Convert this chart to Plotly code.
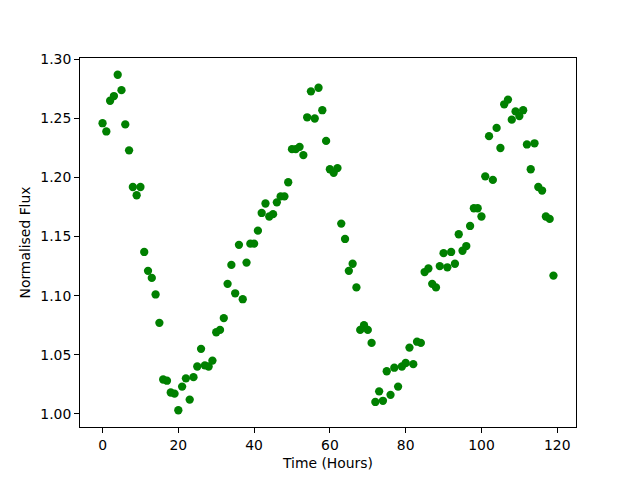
import plotly.graph_objects as go

hours = list(range(120))
flux = [
    1.246, 1.239, 1.265, 1.269, 1.287, 1.274, 1.245, 1.223, 1.192, 1.185,
    1.192, 1.137, 1.121, 1.115, 1.101, 1.077, 1.029, 1.028, 1.018, 1.017,
    1.003, 1.023, 1.030, 1.012, 1.031, 1.040, 1.055, 1.041, 1.040, 1.045,
    1.069, 1.071, 1.081, 1.110, 1.126, 1.102, 1.143, 1.097, 1.128, 1.144,
    1.144, 1.155, 1.170, 1.178, 1.167, 1.169, 1.179, 1.184, 1.184, 1.196,
    1.224, 1.224, 1.226, 1.219, 1.251, 1.273, 1.250, 1.276, 1.257, 1.231,
    1.207, 1.204, 1.208, 1.161, 1.148, 1.121, 1.127, 1.107, 1.071, 1.075,
    1.071, 1.060, 1.010, 1.019, 1.011, 1.036, 1.016, 1.039, 1.023, 1.040,
    1.043, 1.056, 1.042, 1.061, 1.060, 1.120, 1.123, 1.110, 1.107, 1.125,
    1.136, 1.124, 1.137, 1.127, 1.152, 1.138, 1.142, 1.159, 1.174, 1.174,
    1.167, 1.201, 1.235, 1.198, 1.242, 1.225, 1.262, 1.266, 1.249, 1.256,
    1.252, 1.257, 1.228, 1.207, 1.229, 1.192, 1.189, 1.167, 1.165, 1.117,
]

x_ticks = [0, 20, 40, 60, 80, 100, 120]
y_ticks = [1.00, 1.05, 1.10, 1.15, 1.20, 1.25, 1.30]

fig = go.Figure(go.Scatter(
    x=hours, y=flux, mode="markers",
    marker=dict(color="#008000", size=8.3, line=dict(width=0)),
))

font = dict(family="DejaVu Sans", size=13.9, color="black")
axis_common = dict(
    showgrid=False, zeroline=False, showline=True, mirror=True,
    linecolor="black", linewidth=1.1, ticks="outside", ticklen=4.9,
    tickwidth=1.1, tickcolor="black", tickfont=font, automargin=False,
)

fig.update_layout(
    width=640, height=480, autosize=False,
    margin=dict(l=80, r=64, t=57.6, b=52.8),
    paper_bgcolor="white", plot_bgcolor="white",
    font=font, showlegend=False,
    xaxis=dict(range=[-5.95, 124.95], tickvals=x_ticks,
               title=dict(text="Time (Hours)", font=font, standoff=6),
               **axis_common),
    yaxis=dict(range=[0.9888, 1.3012], tickvals=y_ticks, tickformat=".2f",
               title=dict(text="Normalised Flux", font=font, standoff=6),
               **axis_common),
)

fig.write_html(
    "out.html",
    config={"displayModeBar": False},
    post_script="document.body.style.margin='0';document.body.style.padding='0';document.body.style.overflow='hidden';",
)
